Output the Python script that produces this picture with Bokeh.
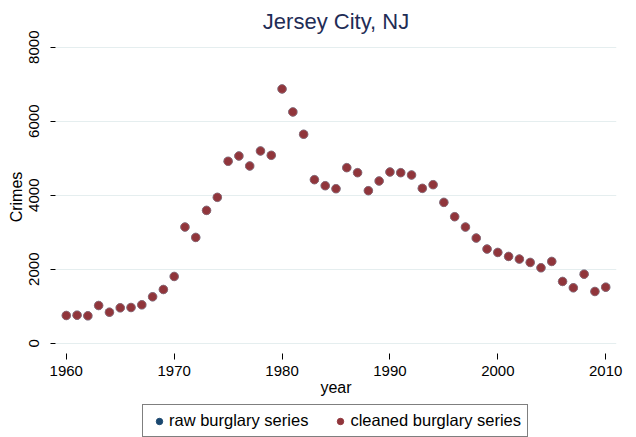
from bokeh.plotting import figure
from bokeh.models import ColumnDataSource, Legend, LegendItem, FixedTicker, Range1d
from bokeh.layouts import column
from bokeh.embed import file_html
from bokeh.resources import INLINE

years = list(range(1960, 2011))
raw_burglary = [749, 758, 740, 1019, 839, 956, 965, 1037, 1254, 1452,
                1804, 3139, 2859, 3590, 3942, 4916, 5060, 4790, 5196, 5078,
                6873, 6251, 5647, 4420, 4257, 4176, 4745, 4609, 4122, 4384,
                4627, 4609, 4546, 4185, 4285, 3806, 3419, 3139, 2841, 2544,
                2453, 2345, 2273, 2183, 2039, 2210, 1669, 1497, 1867, 1398,
                1515]
cleaned_burglary = list(raw_burglary)
series_labels = ["raw burglary series", "cleaned burglary series"]
series_colors = ["#1a476f", "#90353b"]
x_ticks = [1960, 1970, 1980, 1990, 2000, 2010]
y_ticks = [0, 2000, 4000, 6000, 8000]

FONT = "Liberation Sans"

src_raw = ColumnDataSource(dict(year=years, crimes=raw_burglary))
src_clean = ColumnDataSource(dict(year=years, crimes=cleaned_burglary))

p = figure(width=636, height=402, output_backend="svg", toolbar_location=None,
           x_range=Range1d(1959, 2011), y_range=Range1d(-278, 8181),
           min_border_left=55, min_border_right=20, min_border_top=40,
           min_border_bottom=49)

p.title.text = "Jersey City, NJ"
p.title.align = "center"
p.title.text_font = FONT
p.title.text_font_size = "22px"
p.title.text_font_style = "normal"
p.title.text_color = "#1f2d56"
p.title.standoff = 13
p.title.offset = -5

p.background_fill_color = "white"
p.border_fill_color = "white"
p.outline_line_color = None

p.scatter("year", "crimes", source=src_raw, size=8.5,
          fill_color=series_colors[0], line_color=series_colors[0], line_alpha=0.6)
p.scatter("year", "crimes", source=src_clean, size=8.5,
          fill_color=series_colors[1], line_color="#b07a7e", line_width=0.6)

# axes
p.xaxis.ticker = FixedTicker(ticks=x_ticks)
p.yaxis.ticker = FixedTicker(ticks=y_ticks)
for ax in (p.xaxis[0], p.yaxis[0]):
    ax.axis_line_color = None
    ax.major_tick_line_color = "black"
    ax.major_tick_line_width = 1
    ax.major_tick_in = 0
    ax.minor_tick_line_color = None
    ax.major_label_text_font = FONT
    ax.major_label_text_font_size = "15px"
    ax.major_label_text_color = "black"
    ax.axis_label_text_font = FONT
    ax.axis_label_text_font_size = "16px"
    ax.axis_label_text_font_style = "normal"
    ax.axis_label_text_color = "black"

p.xaxis.axis_label = "year"
p.xaxis.major_tick_out = 6
p.xaxis.major_label_standoff = 6
p.xaxis.axis_label_standoff = 0

p.yaxis.axis_label = "Crimes"
p.yaxis.major_tick_out = 5
p.yaxis.major_label_standoff = 11
p.yaxis.axis_label_standoff = 2
p.yaxis.major_label_orientation = "vertical"

p.xgrid.grid_line_color = None
p.ygrid.grid_line_color = "#e5eeef"
p.ygrid.grid_line_width = 1.2

# legend strip below the plot (its frame is aligned with the main frame)
p2 = figure(width=636, height=35, output_backend="svg", toolbar_location=None,
            x_range=Range1d(0, 1), y_range=Range1d(0, 1),
            x_axis_type=None, y_axis_type=None,
            min_border_left=0, min_border_right=0, min_border_top=0, min_border_bottom=0)
p2.outline_line_color = None
p2.background_fill_color = "white"
p2.border_fill_color = "white"
p2.xgrid.grid_line_color = None
p2.ygrid.grid_line_color = None

items = []
for lab, col in zip(series_labels, series_colors):
    # proxy glyph kept outside the visible range; only its legend swatch shows
    r = p2.scatter(x=[-5], y=[-5], size=8.5, fill_color=col, line_color=col)
    items.append(LegendItem(label=lab, renderers=[r]))

legend = Legend(items=items, orientation="horizontal", location=(87, 0))
legend.label_text_font = FONT
legend.label_text_font_size = "16.5px"
legend.label_text_color = "black"
legend.border_line_color = "black"
legend.border_line_width = 1
legend.background_fill_color = "white"
legend.padding = 6
legend.margin = 0
legend.spacing = 22
legend.glyph_width = 20
legend.glyph_height = 16
legend.label_standoff = 0
legend.label_height = 16
p2.add_layout(legend, "center")

layout = column(p, p2, spacing=0)
open("out.html", "w").write(file_html(layout, INLINE))
